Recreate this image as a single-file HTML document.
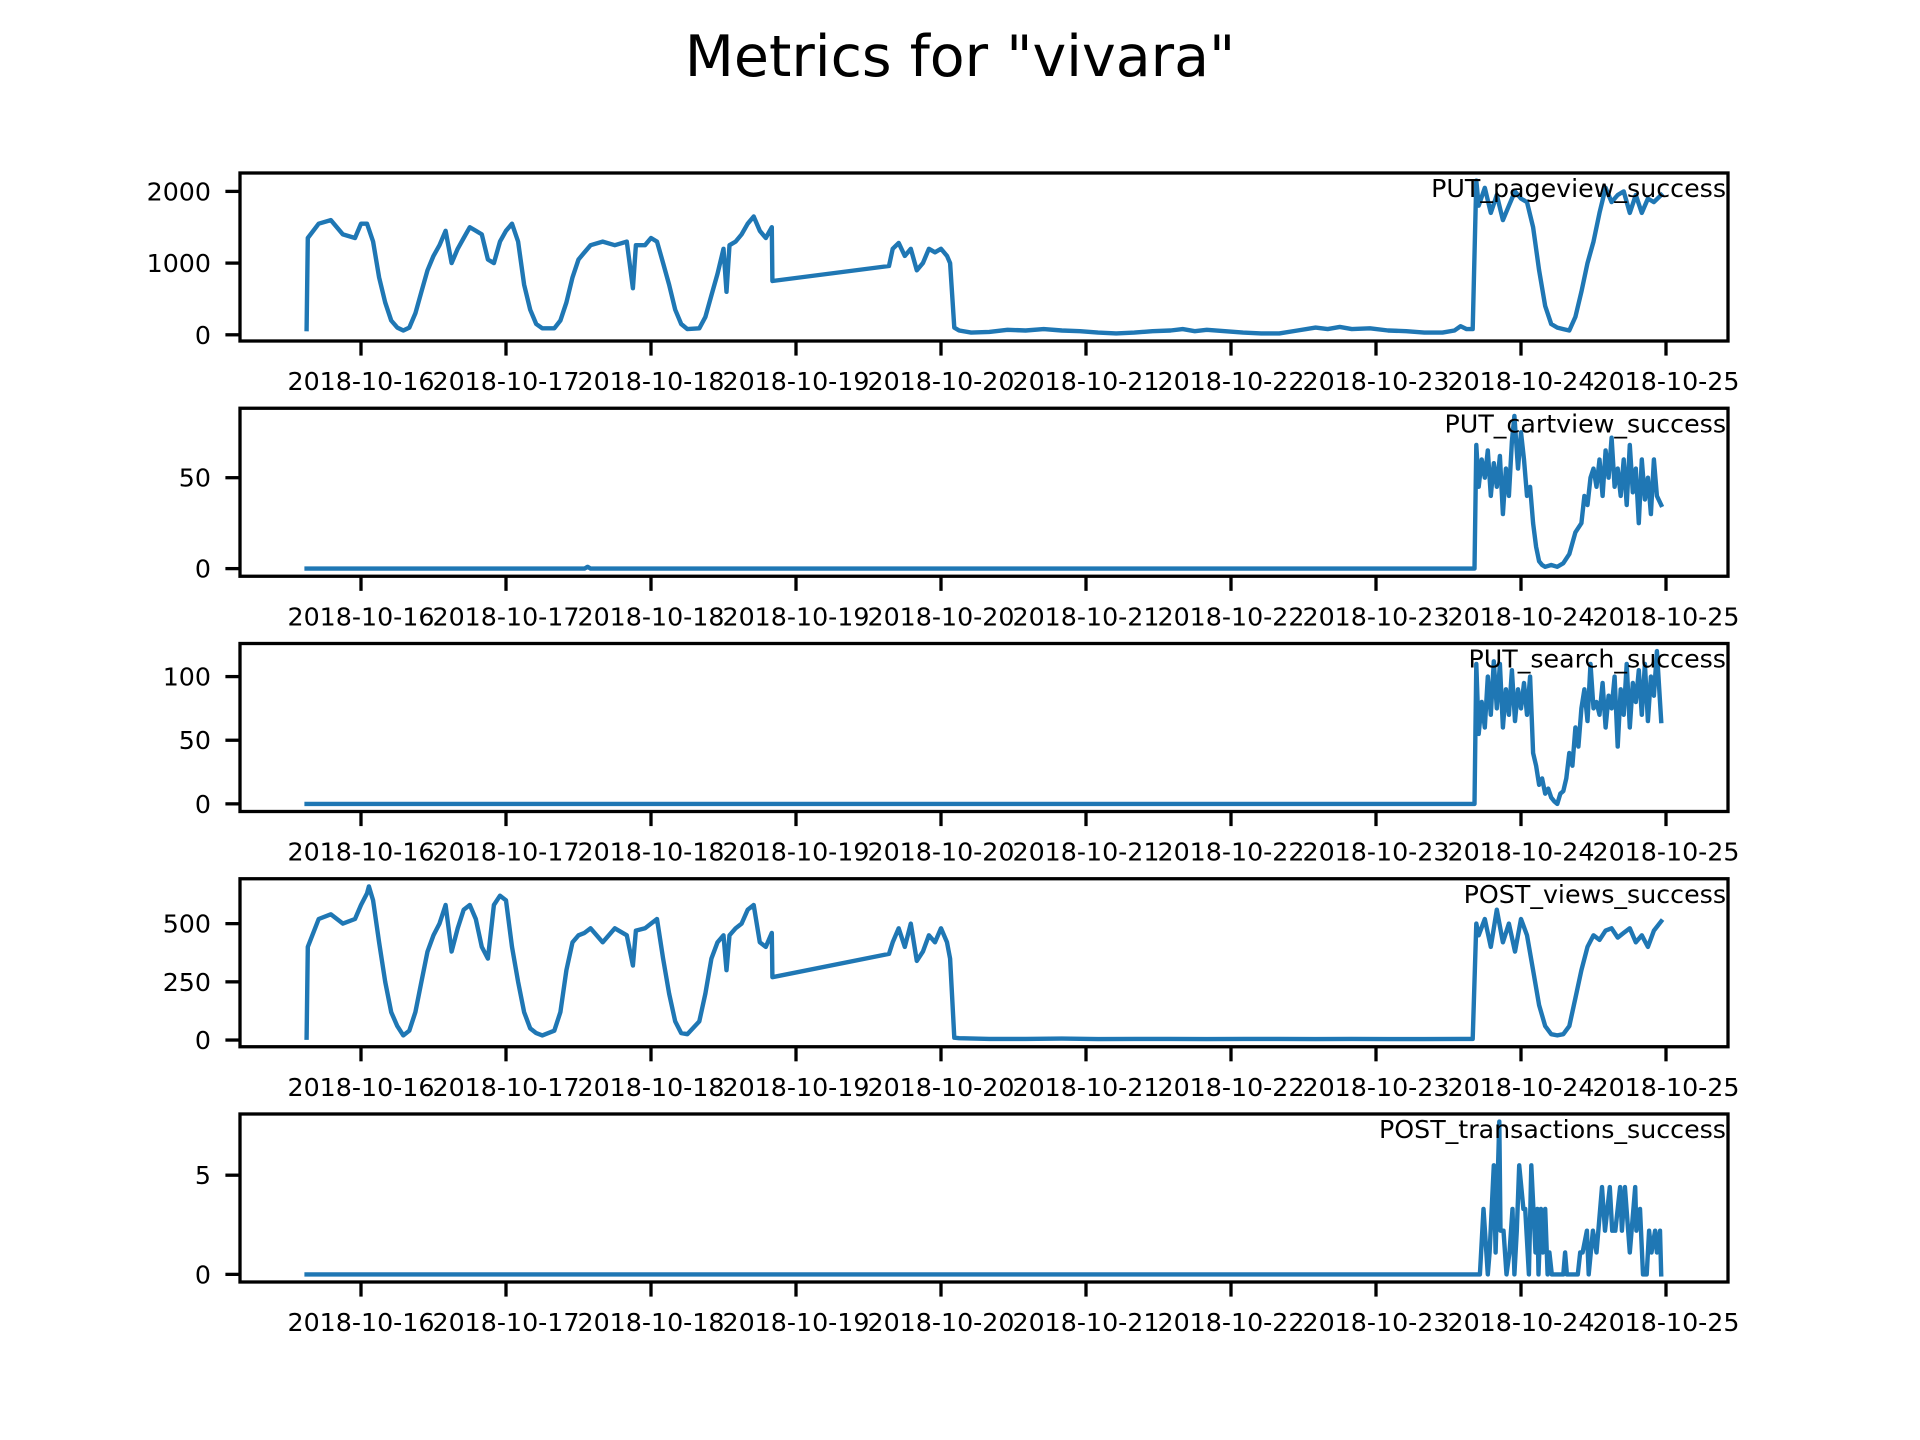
<!DOCTYPE html>
<html><head><meta charset="utf-8">
<style>
html,body{margin:0;padding:0;background:#fff;}
svg{display:block;}
text{font-family:"DejaVu Sans","Liberation Sans",sans-serif;fill:#000;}
</style></head>
<body>
<svg id="chart" width="1920" height="1440" viewBox="0 0 1920 1440" xmlns="http://www.w3.org/2000/svg">
<rect width="1920" height="1440" fill="#fff"/>
<text x="960" y="76" font-size="57" text-anchor="middle">Metrics for "vivara"</text>
</svg>
<script>
// x tick labels (dates), tick positions in hours since 2018-10-16 00:00
const dateLabels = ["2018-10-16","2018-10-17","2018-10-18","2018-10-19","2018-10-20","2018-10-21","2018-10-22","2018-10-23","2018-10-24","2018-10-25"];
const seriesNames = ["PUT_pageview_success","PUT_cartview_success","PUT_search_success","POST_views_success","POST_transactions_success"];

const pvTimes = [-9,-8.8,-7,-5,-3,-1,0,1,2,3,4,5,6,7,8,9,10,11,12,13,14,15,16,17,18,19,20,21,22,23,24,25,26,27,28,29,30,32,33,34,35,36,37,38,40,42,44,45,45.5,47,48,49,50,51,52,53,54,56,57,58,59,60,60.5,61,62,63,64,65,66,67,68,68.1,87.4,88,89,90,91,92,93,94,95,96,97,97.5,98.2,99,101,104,107,110,113,116,119,122,125,128,131,134,136,138,140,143,146,149,152,155,158,160,162,164,167,170,173,176,179,181,182,183,184,184.6,185,186,187,188,189,190,191,192,193,194,195,196,197,198,199,200,201,202,203,204,205,206,207,208,209,210,211,212,213,214,215.2];
const pvValues = [80,1350,1550,1600,1400,1350,1550,1550,1300,800,450,200,100,60,100,300,600,900,1100,1250,1450,1000,1200,1350,1500,1450,1400,1050,1000,1300,1450,1550,1300,700,350,150,90,90,200,450,800,1050,1150,1250,1300,1250,1300,650,1250,1250,1350,1300,1000,700,350,150,80,90,250,550,850,1200,600,1250,1300,1400,1550,1650,1450,1350,1500,750,960,1200,1280,1100,1200,900,1000,1200,1150,1200,1100,1000,100,60,30,40,70,60,80,60,50,30,20,30,50,60,80,50,70,50,30,20,20,60,100,80,110,80,90,60,50,30,30,60,120,80,80,2150,1800,2050,1700,1950,1600,1800,2000,1900,1850,1500,900,400,150,100,80,60,250,600,1000,1300,1700,2050,1850,1950,2000,1700,1950,1700,1900,1850,1950];

const cvTimes = [-9,37,37.5,38,184.3,184.6,185,185.5,186,186.5,187,187.5,188,188.5,189,189.5,190,190.5,190.9,191.5,192,192.5,193,193.5,194,194.5,195,195.5,196,197,198,199,200,201,202,202.5,203,203.5,204,204.5,205,205.5,206,206.5,207,207.5,208,208.5,209,209.5,210,210.5,211,211.5,212,212.5,213,213.5,214,214.5,215.2];
const cvValues = [0,0,1,0,0,68,45,60,50,65,40,58,45,62,30,55,40,70,84,55,75,60,40,45,25,12,4,2,1,2,1,3,8,20,25,40,35,50,55,45,60,40,65,50,72,45,55,40,60,35,68,42,55,25,60,38,50,30,60,40,35];

const srTimes = [-9,184.3,184.6,185,185.5,186,186.5,187,187.5,188,188.5,189,189.5,190,190.5,191,191.5,192,192.5,193,193.5,194,194.5,195,195.5,196,196.5,197,197.5,198,198.5,199,199.5,200,200.5,201,201.5,202,202.5,203,203.5,204,204.5,205,205.5,206,206.5,207,207.5,208,208.5,209,209.5,210,210.5,211,211.5,212,212.5,213,213.5,214,214.5,215.2];
const srValues = [0,0,110,55,80,60,100,70,112,75,110,60,90,70,105,65,90,75,95,70,100,40,30,15,20,8,12,5,2,0,8,10,20,40,30,60,45,75,90,65,110,75,80,70,95,60,85,75,100,45,90,70,110,60,95,80,105,70,110,65,100,85,120,65];

const vwTimes = [-9,-8.8,-7,-5,-3,-1,0,1,1.3,2,3,4,5,6,7,8,9,10,11,12,13,14,15,16,17,18,19,20,21,22,23,24,25,26,27,28,29,30,32,33,34,35,36,37,38,40,42,44,45,45.5,47,48,49,50,51,52,53,54,56,57,58,59,60,60.5,61,62,63,64,65,66,67,68,68.1,87.4,88,89,90,91,92,93,94,95,96,97,97.5,98.2,99,104,110,116,122,128,134,140,146,152,158,164,170,176,182,184,184.6,185,186,187,188,189,190,191,192,193,194,195,196,197,198,199,200,201,202,203,204,205,206,207,208,209,210,211,212,213,214,215.2];
const vwValues = [10,400,520,540,500,520,580,630,660,600,420,250,120,60,20,40,120,250,380,450,500,580,380,480,560,580,520,400,350,580,620,600,400,250,120,50,30,20,40,120,300,420,450,460,480,420,480,450,320,470,480,500,520,350,200,80,30,25,80,200,350,420,450,300,450,480,500,560,580,420,400,460,270,370,420,480,400,500,340,380,450,420,480,420,350,10,8,5,5,6,4,5,5,4,5,5,4,5,4,4,5,5,500,450,520,400,560,420,500,380,520,450,300,150,60,25,20,25,60,180,300,400,450,430,470,480,440,460,480,420,450,400,470,510];

const txTimes = [-9,185.2,185.8,186.5,186.8,187.5,187.8,188.4,188.6,189.1,189.6,190.1,190.6,190.9,191.3,191.7,192.4,192.7,193.3,193.7,194.4,194.7,194.9,195.3,195.6,196.0,196.4,196.7,197.1,199.0,199.3,199.6,201.4,201.8,202.2,202.9,203.2,203.9,204.5,205.4,205.9,206.7,207.1,207.6,208.4,208.7,209.2,210.0,210.9,211.1,211.7,212.2,212.8,213.2,213.6,214.2,214.5,215.0,215.2];
const txValues = [0,0,3.3,0,1.1,5.5,1.1,7.7,2.2,2.2,0,1.1,3.3,0,2.2,5.5,3.3,3.3,0,5.5,1.1,3.3,0,3.3,1.1,3.3,0,1.1,0,0,1.1,0,0,1.1,1.1,2.2,0,2.2,1.1,4.4,2.2,4.4,2.2,2.2,4.4,2.2,4.4,1.1,4.4,2.2,3.3,0,0,2.2,1.1,2.2,1.1,2.2,0];

const yTicks0 = [0,1000,2000];
const yTicks1 = [0,50];
const yTicks2 = [0,50,100];
const yTicks3 = [0,250,500];
const yTicks4 = [0,5];

const NS = "http://www.w3.org/2000/svg";
const svg = document.getElementById('chart');
const L = 240, R = 1728, TOP0 = 173, H = 168, STEP = 235.25;
const X0 = 361, DAYPX = 145;
const FS = 25.3;
function xScale(h){ return X0 + h/24*DAYPX; }
function mk(tag, attrs){ const e = document.createElementNS(NS, tag); for (const k in attrs) e.setAttribute(k, attrs[k]); return e; }

const panels = [
  [pvTimes, pvValues, yTicks0],
  [cvTimes, cvValues, yTicks1],
  [srTimes, srValues, yTicks2],
  [vwTimes, vwValues, yTicks3],
  [txTimes, txValues, yTicks4]
];

panels.forEach((p, i) => {
  const [ts, vs, yt] = p;
  const top = TOP0 + i*STEP, bot = top + H;
  const g = mk('g', {});
  
  
  svg.appendChild(g);
  let mn = Math.min(...vs), mx = Math.max(...vs);
  const pad = (mx - mn) * 0.05;
  const lo = mn - pad, hi = mx + pad;
  const yScale = v => bot - (v - lo) / (hi - lo) * H;

  let d = '';
  ts.forEach((t, j) => { d += (j ? 'L' : 'M') + xScale(t).toFixed(1) + ',' + yScale(vs[j]).toFixed(1); });
  const path = mk('path', {d: d, fill: 'none', stroke: '#1f77b4', 'stroke-width': 4.4, 'stroke-linejoin': 'round', 'stroke-linecap': 'square'});
  
  
  g.appendChild(path);

  const frame = mk('rect', {x: L, y: top, width: R - L, height: H, fill: 'none', stroke: '#000', 'stroke-width': 3.3});
  
  
  g.appendChild(frame);

  yt.forEach(v => {
    const y = yScale(v);
    const tk = mk('line', {x1: L, x2: L - 14.6, y1: y, y2: y, stroke: '#000', 'stroke-width': 3.3});
    
    
    g.appendChild(tk);
    const tx = mk('text', {x: L - 29, y: y + 9, 'font-size': FS, 'text-anchor': 'end'});
    
    
    tx.textContent = v;
    g.appendChild(tx);
  });

  dateLabels.forEach((lab, k) => {
    const x = xScale(k*24);
    const tk = mk('line', {x1: x, x2: x, y1: bot, y2: bot + 14.6, stroke: '#000', 'stroke-width': 3.3});
    
    
    g.appendChild(tk);
    const tx = mk('text', {x: x, y: bot + 49, 'font-size': FS, 'text-anchor': 'middle'});
    
    
    tx.textContent = lab;
    g.appendChild(tx);
  });

  const lbl = mk('text', {x: R - 2, y: top + 24, 'font-size': FS, 'text-anchor': 'end'});
  
  
  lbl.textContent = seriesNames[i];
  g.appendChild(lbl);
});
</script>
</body></html>
